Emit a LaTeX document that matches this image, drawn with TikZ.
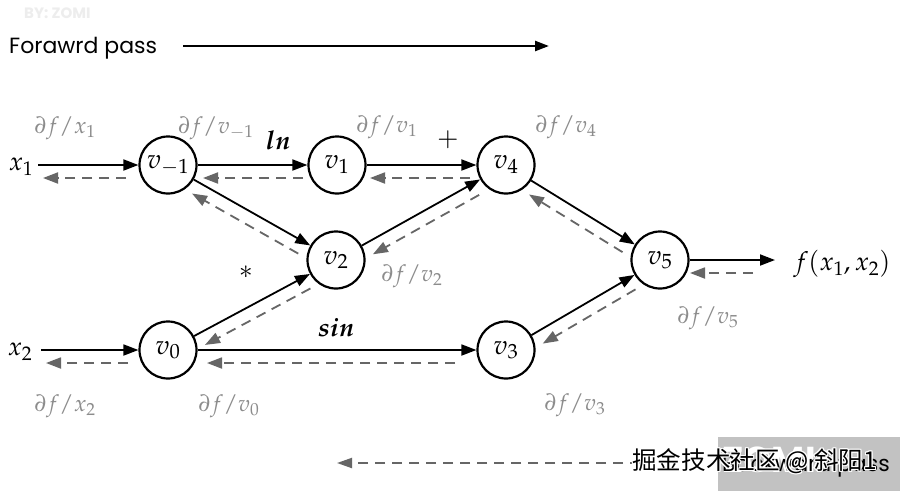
\documentclass[tikz,border=0pt]{standalone}
\usepackage[no-math]{fontspec}
\usepackage{mathpazo}
\usepackage{bm}
\newfontfamily\handfont{Poppins}
\newfontfamily\cjkfont{Noto Sans CJK SC}
\usetikzlibrary{arrows.meta,calc}
\definecolor{lblgray}{HTML}{8C8C8C}
\definecolor{dashgray}{HTML}{666666}
\definecolor{wmgray}{HTML}{C2C2C2}
\newcommand{\bigmath}{\fontsize{26}{30}\selectfont}
\newcommand{\gradmath}{\fontsize{23}{27}\selectfont}
\newcommand{\bwd}[4]{\draw[bwdline, shorten <=#3, shorten >=#4] ($(#2)!13pt!90:(#1)$) -- ($(#1)!13pt!-90:(#2)$);}
\tikzset{
  vnode/.style={circle, draw, line width=2.2pt, minimum size=57pt, inner sep=0pt, font=\fontsize{27}{30}\selectfont},
  fwdline/.style={line width=1.8pt, -{Triangle[length=15pt,width=11pt]}},
  bwdline/.style={line width=1.8pt, draw=dashgray, dash pattern=on 10pt off 7pt, -{Triangle[length=15pt,width=11pt,fill=dashgray]}},
  grad/.style={text=lblgray, font=\gradmath, inner sep=0pt},
  lbl/.style={font=\bigmath, inner sep=0pt},
  passtext/.style={font=\handfont\fontsize{22}{26}\selectfont, inner sep=0pt},
}
\begin{document}
\begin{tikzpicture}[x=1pt,y=-1pt]
\useasboundingbox (0,0) rectangle (900,491);
\fill[white] (0,0) rectangle (900,491);
% watermark top-left
\node[text=black!7, font=\handfont\bfseries\fontsize{15}{15}\selectfont, anchor=west, inner sep=0pt] (by) at (24,13) {BY: ZOMI};
% forward pass
\node[passtext, anchor=west] (fwdtxt) at (9,48) {Forawrd pass};
\coordinate (fa) at (183,46);
\coordinate (fb) at (549,46);
\draw[line width=2.4pt, -{Triangle[length=14pt,width=10pt]}] (fa) -- (fb);
% nodes
\node[vnode] (vm1) at (168,165) {$v_{-1}$};
\node[vnode] (v1) at (337,165) {$v_1$};
\node[vnode] (v4) at (506,165) {$v_4$};
\node[vnode] (v2) at (336,260) {$v_2$};
\node[vnode] (v5) at (660,260) {$v_5$};
\node[vnode] (v0) at (168,350) {$v_0$};
\node[vnode] (v3) at (506,350) {$v_3$};
% labels
\node[lbl] (x1) at (21,167) {$x_1$};
\node[lbl] (x2) at (20,352) {$x_2$};
\node[lbl] (fx) at (842,264) {$f(x_1,x_2)$};
\node[lbl] (ln) at (278,140) {$\bm{ln}$};
\node[lbl] (plus) at (448,140) {$+$};
\node[lbl] (star) at (246,272) {$*$};
\node[lbl] (sin) at (336,328) {$\bm{sin}$};
\node[grad] (gx1) at (65,128) {$\partial f/x_1$};
\node[grad] (gvm1) at (216,128) {$\partial f/v_{-1}$};
\node[grad] (gv1) at (387,127) {$\partial f/v_1$};
\node[grad] (gv4) at (566,127) {$\partial f/v_4$};
\node[grad] (gv2) at (412,276) {$\partial f/v_2$};
\node[grad] (gv5) at (708,318) {$\partial f/v_5$};
\node[grad] (gx2) at (65,406) {$\partial f/x_2$};
\node[grad] (gv0) at (229,406) {$\partial f/v_0$};
\node[grad] (gv3) at (575,405) {$\partial f/v_3$};
% free ends
\coordinate (x1e) at (38,165);
\coordinate (x2e) at (41,350);
\coordinate (fe) at (775,260);
% edges
\draw[fwdline] (x1e) -- (vm1); \bwd{x1e}{vm1}{42pt}{5pt}
\draw[fwdline] (vm1) -- (v1);  \bwd{vm1}{v1}{34pt}{35pt}
\draw[fwdline] (v1) -- (v4);   \bwd{v1}{v4}{36pt}{33pt}
\draw[fwdline] (vm1) -- (v2);  \bwd{vm1}{v2}{36pt}{35pt}
\draw[fwdline] (v2) -- (v4);   \bwd{v2}{v4}{38pt}{35pt}
\draw[fwdline] (v0) -- (v2);   \bwd{v0}{v2}{36pt}{35pt}
\draw[fwdline] (v4) -- (v5);   \bwd{v4}{v5}{36pt}{35pt}
\draw[fwdline] (v3) -- (v5);   \bwd{v3}{v5}{36pt}{35pt}
\draw[fwdline] (v5) -- (fe);   \bwd{v5}{fe}{22pt}{30pt}
\draw[fwdline] (x2e) -- (v0);  \bwd{x2e}{v0}{40pt}{5pt}
\draw[fwdline] (v0) -- (v3);   \bwd{v0}{v3}{51pt}{39pt}
% backward pass
\coordinate (ba) at (640,463);
\coordinate (bb) at (337,463);
\draw[line width=2pt, draw=dashgray, dash pattern=on 10pt off 7pt, -{Triangle[length=15pt,width=10pt,fill=dashgray]}] (ba) -- (bb);
\fill[wmgray] (718,437) rectangle (900,491);
\node[text=white, font=\handfont\bfseries\fontsize{36}{36}\selectfont, anchor=west, inner sep=0pt] (zomi) at (722,460) {ZOMI};
\node[passtext, anchor=east] (bwdtxt) at (890,466) {Backward pass};
% CJK watermark with white halo
\foreach \dx/\dy in {-1.2/0,1.2/0,0/-1.2,0/1.2,-1/-1,1/1,-1/1,1/-1}{
  \node[text=white, font=\cjkfont\fontsize{24.6}{25}\selectfont, anchor=west, inner sep=0pt] at (632+\dx,461+\dy) {掘金技术社区 @ 斜阳1};
}
\node[text=black, font=\cjkfont\fontsize{24.6}{25}\selectfont, anchor=west, inner sep=0pt] (wm) at (632,461) {掘金技术社区 @ 斜阳1};
\end{tikzpicture}
\end{document}
